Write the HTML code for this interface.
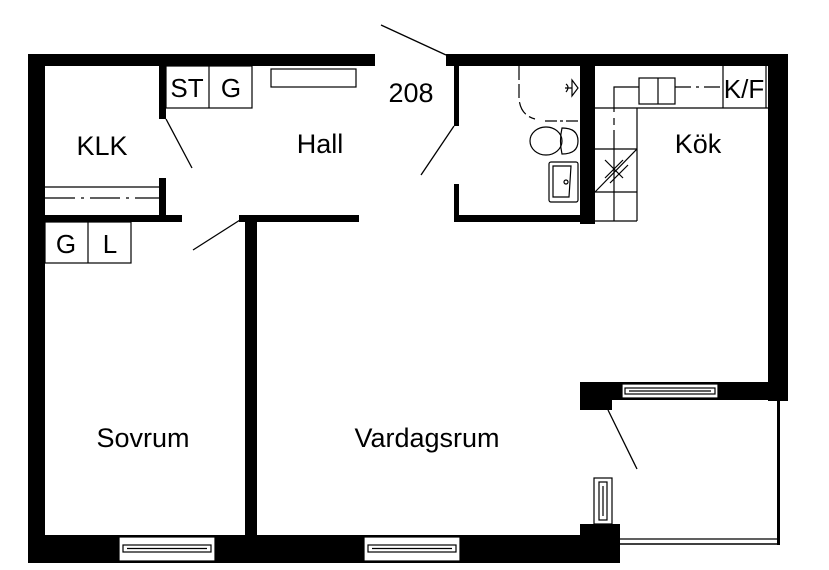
<!DOCTYPE html>
<html><head><meta charset="utf-8"><style>
html,body{margin:0;padding:0;background:#fff;}
svg{display:block;}
text{font-family:"Liberation Sans",sans-serif;fill:#000;}
</style></head><body>
<svg width="829" height="570" viewBox="0 0 829 570" xmlns="http://www.w3.org/2000/svg">
<g fill="#000">
<rect x="28" y="54" width="347" height="12"/>
<rect x="446" y="54" width="342" height="12"/>
<rect x="28" y="54" width="17" height="509"/>
<rect x="28" y="535" width="592" height="28"/>
<rect x="159" y="66" width="7" height="53"/>
<rect x="159" y="178" width="7" height="44"/>
<rect x="45" y="215" width="137" height="7"/>
<rect x="239" y="215" width="120" height="7"/>
<rect x="245" y="215" width="12" height="322"/>
<rect x="454" y="66" width="5" height="60"/>
<rect x="454" y="184" width="5" height="38"/>
<rect x="454" y="215" width="128" height="7"/>
<rect x="580" y="66" width="15" height="158"/>
<rect x="768" y="54" width="20" height="347"/>
<rect x="580" y="382" width="208" height="18"/>
<rect x="580" y="382" width="32" height="28"/>
<rect x="580" y="524" width="40" height="39"/>
</g>
<g stroke="#000" fill="#fff" stroke-width="1.2">
<rect x="119" y="537" width="96" height="24"/>
<rect x="123" y="545" width="88" height="7"/>
<line x1="127" y1="548.5" x2="207" y2="548.5"/>
<rect x="364" y="537" width="96" height="24"/>
<rect x="368" y="545" width="88" height="7"/>
<line x1="372" y1="548.5" x2="452" y2="548.5"/>
<rect x="622" y="384" width="96" height="14"/>
<rect x="625" y="388" width="90" height="6"/>
<line x1="629" y1="391" x2="711" y2="391"/>
<rect x="594" y="478" width="18" height="46"/>
<rect x="599" y="482" width="8" height="38"/>
<line x1="603" y1="486" x2="603" y2="516"/>
</g>
<g stroke="#000" fill="none">
<line x1="778.5" y1="400" x2="778.5" y2="545" stroke-width="3"/>
<line x1="620" y1="539" x2="780" y2="539" stroke-width="1.2"/>
<line x1="620" y1="544" x2="780" y2="544" stroke-width="1.5"/>
</g>
<g stroke="#000" stroke-width="1.3" fill="none">
<line x1="381" y1="25" x2="446" y2="55"/>
<line x1="421" y1="175" x2="454" y2="126"/>
<line x1="166" y1="119" x2="192" y2="168"/>
<line x1="193" y1="250" x2="240" y2="220"/>
<line x1="608" y1="410" x2="637" y2="469"/>
</g>
<g stroke="#000" stroke-width="1.2" fill="none">
<rect x="166" y="66" width="86" height="42"/>
<line x1="209" y1="66" x2="209" y2="108"/>
<rect x="271" y="69" width="85" height="18"/>
<rect x="45" y="222" width="86" height="41"/>
<line x1="88" y1="222" x2="88" y2="263"/>
<line x1="45" y1="187" x2="159" y2="187"/>
<line x1="45" y1="198" x2="159" y2="198" stroke-dasharray="30,6,3,6"/>
</g>
<g stroke="#000" stroke-width="1.2" fill="none">
<path d="M519 66 V98 Q520 115 535 119" stroke-dasharray="14,4"/>
<line x1="545" y1="121" x2="580" y2="121" stroke-dasharray="12,3,3,3"/>
<path d="M565 88 H572 M566 84 Q570 87 566 92 M572 80 L578 88 L572 96 Z"/>
<ellipse cx="546" cy="141" rx="16" ry="14"/>
<path d="M562 128 Q578 128 578 141 Q578 154 562 154 Q559 141 562 128 Z"/>
<rect x="549" y="162" width="29" height="40" rx="2"/>
<path d="M553 166 H571 L569 197 H553 Z"/>
<circle cx="566" cy="182" r="2"/>
</g>
<g stroke="#000" stroke-width="1.2" fill="none">
<line x1="595" y1="108" x2="768" y2="108"/>
<line x1="637" y1="108" x2="637" y2="221"/>
<line x1="595" y1="221" x2="637" y2="221"/>
<line x1="595" y1="149" x2="637" y2="149"/>
<line x1="595" y1="192" x2="637" y2="192"/>
<line x1="595" y1="192" x2="637" y2="149"/>
<line x1="605" y1="178" x2="623" y2="160"/>
<line x1="610" y1="183" x2="628" y2="165"/>
<line x1="723" y1="66" x2="723" y2="108"/>
<line x1="766" y1="66" x2="766" y2="108"/>
<rect x="639" y="78" width="36" height="26"/>
<line x1="658" y1="78" x2="658" y2="104"/>
<path d="M614 221 V130 M614 125 V118 M614 112 V87 H639"/>
<line x1="675" y1="87" x2="723" y2="87" stroke-dasharray="16,5,3,5"/>
<line x1="605" y1="160" x2="623" y2="178"/>
</g>
<g font-size="26" text-anchor="middle">
<text x="187" y="97">ST</text>
<text x="231" y="97">G</text>
<text x="66" y="253">G</text>
<text x="110" y="253">L</text>
<text x="744" y="98">K/F</text>
</g>
<g font-size="27" text-anchor="middle">
<text x="411" y="102">208</text>
<text x="102" y="155">KLK</text>
<text x="320" y="153">Hall</text>
<text x="698" y="153">Kök</text>
<text x="143" y="447">Sovrum</text>
<text x="427" y="447">Vardagsrum</text>
</g>
</svg>
</body></html>
